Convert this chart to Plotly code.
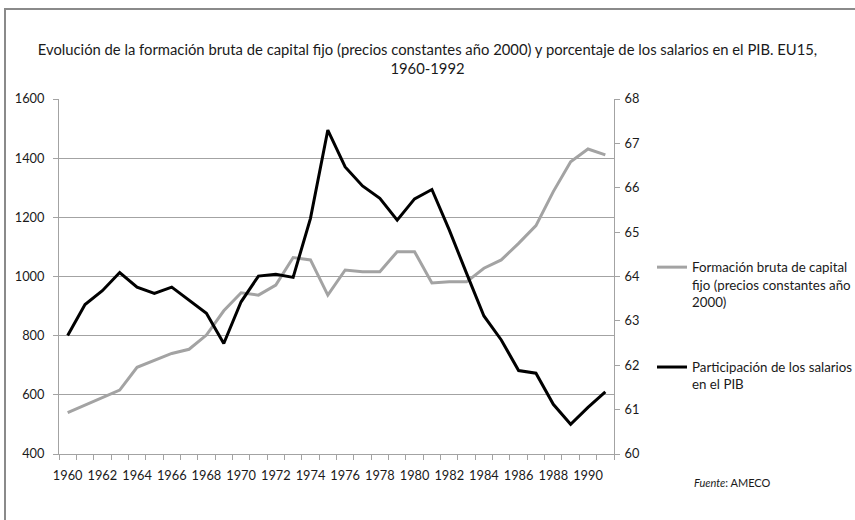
import plotly.graph_objects as go

years = list(range(1960, 1992))
fbcf = [540, 565, 590, 616, 693, 716, 740, 754, 802, 884, 945, 937, 971, 1064, 1056, 937,
        1022, 1016, 1016, 1084, 1084, 978, 982, 982, 1028, 1056, 1112, 1172, 1287, 1388, 1431, 1411]
salarios = [62.67, 63.37, 63.68, 64.09, 63.76, 63.62, 63.76, 63.47, 63.17, 62.49, 63.43, 64.01,
            64.05, 63.98, 65.31, 67.30, 66.47, 66.04, 65.76, 65.27, 65.75, 65.96, 65.05, 64.07,
            63.11, 62.57, 61.88, 61.82, 61.12, 60.67, 61.05, 61.40]
tick_years = years[::2]

name_fbcf = "Formación bruta de capital<br>fijo (precios constantes año<br>2000)"
name_sal = "Participación de los salarios<br>en el PIB"
title_text = ("Evolución de la formación bruta de capital fijo (precios constantes año 2000) "
              "y porcentaje de los salarios en el PIB. EU15,<br>1960-1992")

FONT = "Lato"
GRID = "#a3a3a3"
TXT = "#1a1a1a"
TICKFONT = dict(family=FONT, size=12.8, color=TXT)

fig = go.Figure()
fig.add_trace(go.Scatter(x=years, y=fbcf, name=name_fbcf, mode="lines",
                         line=dict(color="#a3a3a3", width=3), legendgroup="a"))
fig.add_trace(go.Scatter(x=years, y=salarios, name=name_sal, mode="lines", yaxis="y2",
                         line=dict(color="#000000", width=3), legendgroup="b"))

W, H = 855, 520
L, R, T, B = 59, 241, 99, 66
pw, ph = W - L - R, H - T - B

def px(xp):
    return (xp - L) / pw

def py(yp):
    return (H - B - yp) / ph

fig.update_layout(
    width=W, height=H,
    margin=dict(l=L, r=R, t=T, b=B, autoexpand=False),
    paper_bgcolor="white", plot_bgcolor="white",
    font=dict(family=FONT, size=13, color=TXT),
    title=dict(text=title_text, x=0.5, xref="container", xanchor="center",
               y=(H - 55) / H, yref="container", yanchor="top",
               font=dict(family=FONT, size=14.8, color=TXT)),
    xaxis=dict(range=[1959.5, 1991.5], tickmode="array", tickvals=tick_years,
               ticktext=[str(y) for y in tick_years], ticks="", showgrid=False,
               showline=True, linecolor=GRID, linewidth=1, zeroline=False,
               ticklabelstandoff=10, tickangle=0, automargin=False, tickfont=TICKFONT,
               minor=dict(ticks="outside", tick0=1959.5, dtick=1, ticklen=5,
                          tickcolor=GRID, showgrid=False)),
    yaxis=dict(range=[400, 1600], dtick=200, ticks="outside", ticklen=5, tickcolor=GRID,
               showgrid=True, gridcolor=GRID, gridwidth=1, showline=True,
               linecolor=GRID, zeroline=False, ticklabelstandoff=6, automargin=False,
               tickfont=TICKFONT),
    yaxis2=dict(range=[60, 68], dtick=1, overlaying="y", side="right", ticks="outside",
                ticklen=5, tickcolor=GRID, showgrid=False, showline=True,
                linecolor=GRID, zeroline=False, ticklabelstandoff=2, automargin=False,
                tickfont=TICKFONT),
    legend=dict(x=px(652), xanchor="left", y=py(252), yanchor="top",
                traceorder="grouped", tracegroupgap=45, valign="top",
                font=dict(family=FONT, size=13.3, color=TXT),
                bgcolor="rgba(0,0,0,0)"),
    shapes=[
        dict(type="line", xref="paper", yref="paper", x0=px(4), x1=px(855),
             y0=py(9), y1=py(9), line=dict(color="#8a8a8a", width=2), layer="above"),
        dict(type="line", xref="paper", yref="paper", x0=px(5), x1=px(5),
             y0=py(8), y1=py(520), line=dict(color="#8a8a8a", width=2), layer="above"),
    ],
    annotations=[
        dict(text="<i>Fuente</i>: AMECO", xref="paper", yref="paper", x=px(732),
             y=py(483), xanchor="center", yanchor="middle", showarrow=False,
             font=dict(family=FONT, size=11, color=TXT)),
    ],
)

fig.write_html("out.html", config={"displayModeBar": False},
               post_script="document.body.style.margin='0';")
